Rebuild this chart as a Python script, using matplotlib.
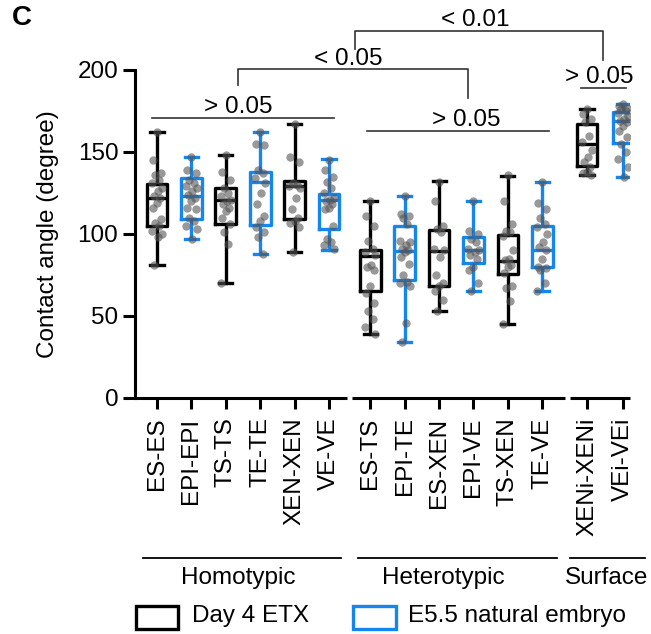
import matplotlib
matplotlib.use("Agg")
import matplotlib.pyplot as plt
from matplotlib.patches import Rectangle

plt.rcParams['font.family'] = ['Liberation Sans', 'DejaVu Sans']
FS = 17.5

# categories and positions along x (Prism style gaps between groups)
labels = ['ES-ES', 'EPI-EPI', 'TS-TS', 'TE-TE', 'XEN-XEN', 'VE-VE',
          'ES-TS', 'EPI-TE', 'ES-XEN', 'EPI-VE', 'TS-XEN', 'TE-VE',
          'XENi-XENi', 'VEi-VEi']
positions = [0, 1, 2, 3, 4, 5, 6.2, 7.2, 8.2, 9.2, 10.2, 11.2, 12.5, 13.55]
source = ['etx', 'emb', 'etx', 'emb', 'etx', 'emb',
          'etx', 'emb', 'etx', 'emb', 'etx', 'emb', 'etx', 'emb']

# box statistics (degrees)
mins = [81, 97, 70, 88, 89, 90, 39, 34, 53, 65, 45, 65, 136, 135]
q1 = [105, 109, 106, 105.5, 109, 103, 65.4, 72, 68.3, 82.1, 75.6, 80, 141.5, 155.3]
medians = [122, 123, 121, 132, 129.5, 121, 86.8, 89.8, 89.8, 90.2, 83.8, 90.2, 155, 169]
q3 = [130.5, 134, 128, 137.5, 132.3, 124.4, 90, 104.8, 102.4, 98.4, 99.2, 104.8, 167.3, 174.2]
maxs = [162, 147, 148, 162, 167, 145.5, 120.3, 123.2, 132.3, 120.3, 135.6, 132, 176.5, 179]

# individual measurements
dots = [
    [162, 145, 137, 136, 133, 131, 128, 126, 123, 122, 119, 116, 109, 107, 105, 102, 100, 98, 81],
    [147, 139, 137, 133, 131, 129, 128, 126, 124, 122, 120, 116, 115, 110, 108, 105, 103, 97],
    [148, 138, 133, 128, 125, 123, 121, 120, 118, 116, 114, 110, 106, 101, 94, 70],
    [162, 155, 154, 139, 137, 134, 131, 125, 118, 111, 108, 104, 101, 98, 88],
    [167, 147, 144, 131, 130, 129, 128, 122, 115, 110, 108, 107, 104, 89],
    [145, 139, 135, 132, 128, 125, 122, 121, 120, 118, 116, 115, 105, 97, 95, 93, 91],
    [120, 111, 105, 96, 91, 89, 87, 81, 80, 78, 68, 64, 58, 53, 48, 43, 39],
    [123, 112, 111, 110, 106, 96, 95, 93, 91, 90, 89, 86, 82, 75, 71, 70, 68, 46, 34],
    [132, 120, 105, 103, 101, 91, 90, 86, 75, 70, 68, 65, 60, 53],
    [120, 102, 100, 97, 95, 91, 90, 89, 87, 85, 80, 78, 70, 65],
    [136, 120, 106, 102, 101, 99, 90, 85, 84, 81, 80, 76, 68, 67, 59, 45],
    [132, 119, 115, 110, 106, 104, 100, 95, 92, 90, 85, 80, 79, 78, 70, 65],
    [176, 173, 170, 168, 160, 156, 151, 147, 144, 141, 138, 137, 136],
    [179, 178, 177, 176, 175, 174, 172, 170, 169, 168, 166, 163, 159, 155, 150, 146, 141, 135],
]

BLUE = '#1486f0'
colors = {'etx': 'black', 'emb': BLUE}

fig = plt.figure(figsize=(6.51, 6.34), dpi=100)
ax = fig.add_axes([135/651, 1 - 398/634, 495/651, 328/634])

x0, x1 = -0.64, 13.75
ax.set_xlim(x0, x1)
ax.set_ylim(0, 200)

lw = 2.4
for i in range(len(labels)):
    c = colors[source[i]]
    st = [dict(med=medians[i], q1=q1[i], q3=q3[i], whislo=mins[i], whishi=maxs[i], fliers=[])]
    ax.bxp(st, positions=[positions[i]], widths=0.6, showfliers=False,
           boxprops=dict(color=c, linewidth=lw),
           medianprops=dict(color=c, linewidth=lw),
           whiskerprops=dict(color=c, linewidth=lw),
           capprops=dict(color=c, linewidth=lw),
           capwidths=0.38, manage_ticks=False)

# deterministic horizontal spread of the dots
spread = [0.0, -0.12, 0.12, -0.06, 0.07, -0.15, 0.15, 0.03, -0.09, 0.1]
for i, vals in enumerate(dots):
    xs = [positions[i] + spread[k % len(spread)] for k in range(len(vals))]
    ax.scatter(xs, vals, s=36, color='#555555', alpha=0.6, linewidths=0, zorder=5)

# axes styling
for s in ['top', 'right', 'bottom']:
    ax.spines[s].set_visible(False)
ax.spines['left'].set_linewidth(2.2)
ax.set_xticks(positions)
ax.set_xticklabels(labels, rotation=90, fontsize=FS)
ax.set_yticks([0, 50, 100, 150, 200])
ax.tick_params(axis='y', labelsize=FS, width=2.2, length=9, pad=3)
ax.tick_params(axis='x', width=2.2, length=8, pad=6)
ax.set_ylabel('Contact angle (degree)', fontsize=FS)
ax.yaxis.set_label_coords(-0.153, 0.5)

# broken bottom axis
for a, b in [(x0, 5.52), (5.67, 11.86), (12.0, x1)]:
    ax.plot([a, b], [0, 0], color='black', lw=2.2, clip_on=False, solid_capstyle='butt', zorder=6)

# significance brackets
kw = dict(color='#333333', lw=1.2, clip_on=False)
tk = dict(fontsize=FS, ha='center', va='bottom')
ax.plot([-0.15, 5.15], [170.9, 170.9], **kw)
ax.text(2.35, 171.0, '> 0.05', **tk)
ax.plot([6.1, 11.4], [162.8, 162.8], **kw)
ax.text(9.0, 162.9, '> 0.05', **tk)
ax.plot([12.32, 13.63], [189.2, 189.2], **kw)
ax.text(12.85, 189.3, '> 0.05', **tk)
ax.plot([2.35, 2.35, 9.05, 9.05], [190.9, 200.4, 200.4, 182.7], **kw)
ax.text(5.55, 200.2, '< 0.05', **tk)
ax.plot([5.76, 5.76, 12.97, 12.97], [212.8, 223.8, 223.8, 206.1], **kw)
ax.text(9.25, 223.6, '< 0.01', **tk)

# group labels under the tick labels
for a, b, mid, name in [(-0.41, 5.35, 2.35, 'Homotypic'),
                        (5.84, 11.63, 8.31, 'Heterotypic'),
                        (12.0, 14.19, 13.08, 'Surface')]:
    fig.add_artist(plt.Line2D([(157 + a*34.4)/651, (157 + b*34.4)/651], [1 - 558/634]*2,
                              color='black', lw=1.3))
    fig.text((157 + mid*34.4)/651, 1 - 578/634, name, fontsize=FS, ha='center', va='center')

# legend
fig.add_artist(Rectangle((136/651, 1 - 629/634), 42/651, 23/634, transform=fig.transFigure,
                         fill=False, edgecolor='black', lw=2.4))
fig.text(192/651, 1 - 616/634, 'Day 4 ETX', fontsize=FS, va='center')
fig.add_artist(Rectangle((353/651, 1 - 629/634), 43/651, 23/634, transform=fig.transFigure,
                         fill=False, edgecolor=BLUE, lw=2.4))
fig.text(408/651, 1 - 616/634, 'E5.5 natural embryo', fontsize=FS, va='center')

fig.text(12/651, 1 - 18/634, 'C', fontsize=20, fontweight='bold', va='center')

fig.savefig('out.png', dpi=100)
